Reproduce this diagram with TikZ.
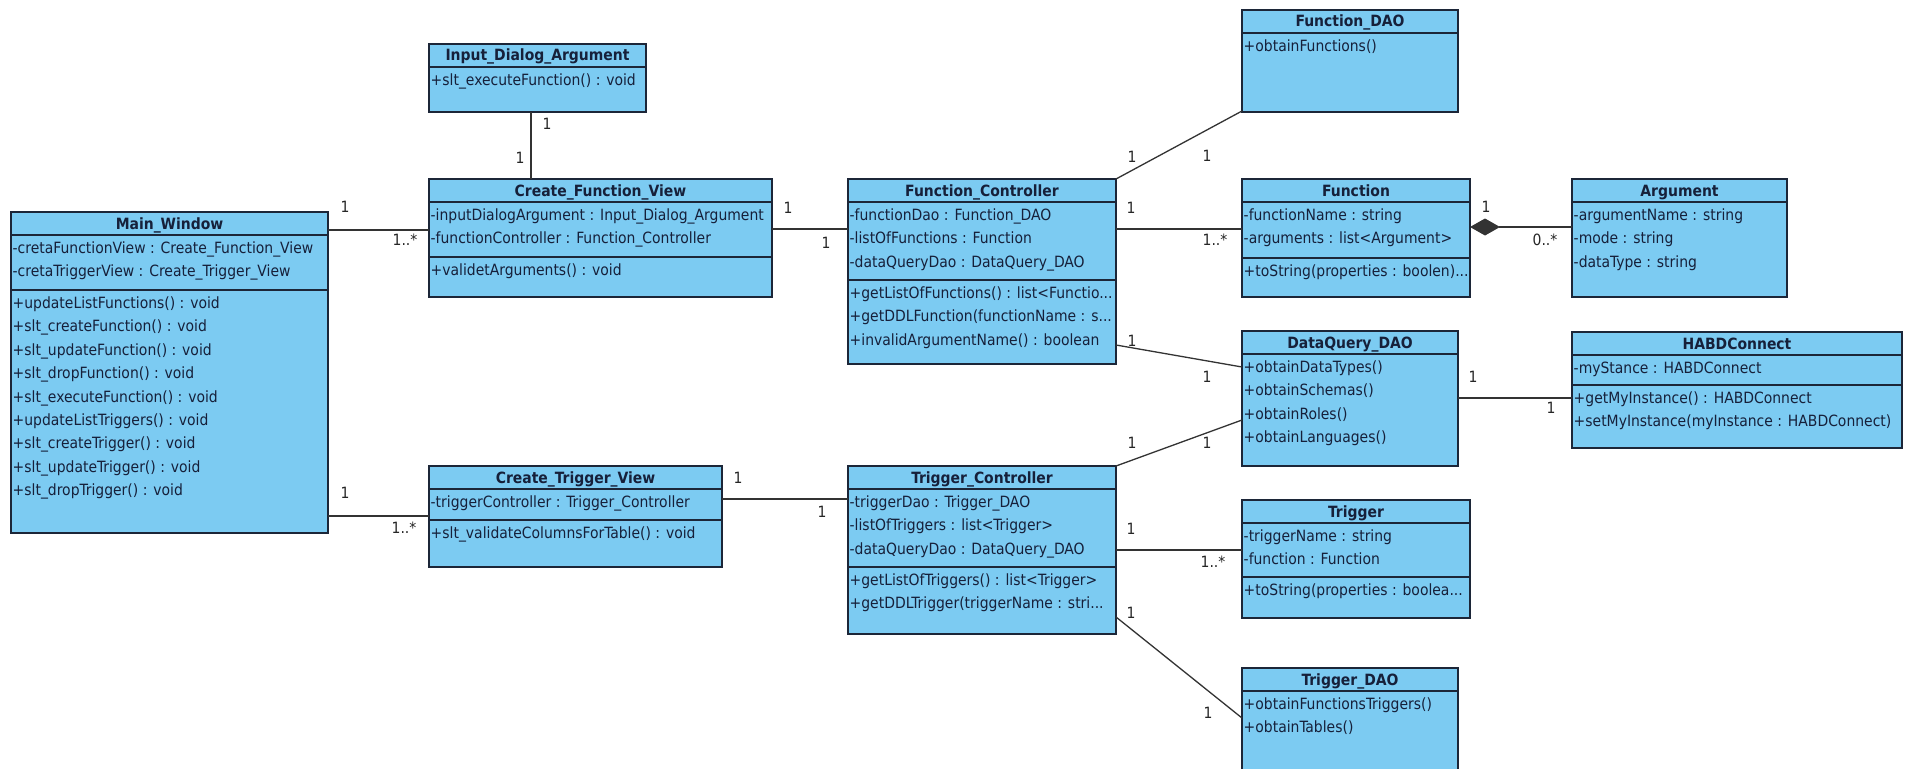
\documentclass[tikz,border=0pt]{standalone}
\usepackage{fontspec}
\setmainfont{DejaVu Sans Condensed}
\usetikzlibrary{arrows.meta}

\definecolor{classfill}{RGB}{124,203,242}
\definecolor{classedge}{RGB}{28,38,56}
\definecolor{classtext}{RGB}{22,32,58}

% name, top left, width, height, first compartment height (0 = one compartment), title, attributes, methods
\newcommand{\umlclass}[8]{%
  \node[classbox, minimum width=#3pt, minimum height=#4pt] (#1) at #2 {};
  \node[classtitle] at ([yshift=-17pt]#1.north) {#6};
  \draw[classrule] ([yshift=-23pt]#1.north west) -- ([yshift=-23pt]#1.north east);
  \node[members] at ([yshift=-23pt]#1.north west) {\strut#7};
  \ifnum#5>0
    \draw[classrule] ([yshift=-23pt-#5pt]#1.north west) -- ([yshift=-23pt-#5pt]#1.north east);
    \node[members] at ([yshift=-23pt-#5pt]#1.north west) {\strut#8};
  \fi}

\begin{document}
\begin{tikzpicture}[x=1pt,y=-1pt,
  classbox/.style={draw=classedge,fill=classfill,line width=1.6pt,anchor=north west,inner sep=0pt,outer sep=0pt},
  classrule/.style={draw=classedge,line width=1.6pt},
  classtitle/.style={anchor=base,inner sep=0pt,text=classtext,font=\bfseries\fontsize{15.5}{18}\selectfont},
  members/.style={anchor=north west,align=left,inner xsep=1.5pt,inner ysep=2pt,text=classtext,
    font=\fontsize{15.5}{23.4}\selectfont},
  assoc/.style={draw=black!80,line width=1.3pt},
  mult/.style={inner sep=0pt,text=black!85,font=\fontsize{15.5}{18}\selectfont}]

  \clip (0,0) rectangle (1905,768);
  \fill[white] (0,0) rectangle (1905,768);

  \umlclass{mw}{(11,212)}{317}{321}{55}{Main\_Window}
    {-cretaFunctionView : Create\_Function\_View\\-cretaTriggerView : Create\_Trigger\_View}
    {+updateListFunctions() : void\\+slt\_createFunction() : void\\+slt\_updateFunction() : void\\
     +slt\_dropFunction() : void\\+slt\_executeFunction() : void\\+updateListTriggers() : void\\
     +slt\_createTrigger() : void\\+slt\_updateTrigger() : void\\+slt\_dropTrigger() : void}
  \umlclass{ida}{(429,44)}{217}{68}{0}{Input\_Dialog\_Argument}
    {+slt\_executeFunction() : void}{}
  \umlclass{cfv}{(429,179)}{343}{118}{55}{Create\_Function\_View}
    {-inputDialogArgument : Input\_Dialog\_Argument\\-functionController : Function\_Controller}
    {+validetArguments() : void}
  \umlclass{ctv}{(429,466)}{293}{101}{31}{Create\_Trigger\_View}
    {-triggerController : Trigger\_Controller}
    {+slt\_validateColumnsForTable() : void}
  \umlclass{fc}{(848,179)}{268}{185}{78}{Function\_Controller}
    {-functionDao : Function\_DAO\\-listOfFunctions : Function\\-dataQueryDao : DataQuery\_DAO}
    {+getListOfFunctions() : list<Functio...\\+getDDLFunction(functionName : s...\\+invalidArgumentName() : boolean}
  \umlclass{tc}{(848,466)}{268}{168}{78}{Trigger\_Controller}
    {-triggerDao : Trigger\_DAO\\-listOfTriggers : list<Trigger>\\-dataQueryDao : DataQuery\_DAO}
    {+getListOfTriggers() : list<Trigger>\\+getDDLTrigger(triggerName : stri...}
  \umlclass{fdao}{(1242,10)}{216}{102}{0}{Function\_DAO}
    {+obtainFunctions()}{}
  \umlclass{fn}{(1242,179)}{228}{118}{56}{Function}
    {-functionName : string\\-arguments : list<Argument>}
    {+toString(properties : boolen)...}
  \umlclass{dq}{(1242,331)}{216}{135}{0}{DataQuery\_DAO}
    {+obtainDataTypes()\\+obtainSchemas()\\+obtainRoles()\\+obtainLanguages()}{}
  \umlclass{tr}{(1242,500)}{228}{118}{54}{Trigger}
    {-triggerName : string\\-function : Function}
    {+toString(properties : boolea...}
  \umlclass{tdao}{(1242,668)}{216}{120}{0}{Trigger\_DAO}
    {+obtainFunctionsTriggers()\\+obtainTables()}{}
  \umlclass{arg}{(1572,179)}{215}{118}{0}{Argument}
    {-argumentName : string\\-mode : string\\-dataType : string}{}
  \umlclass{hc}{(1572,332)}{330}{116}{30}{HABDConnect}
    {-myStance : HABDConnect}
    {+getMyInstance() : HABDConnect\\+setMyInstance(myInstance : HABDConnect)}

  % associations
  \draw[assoc] ([yshift=-18pt]mw.north east) -- ([yshift=-18pt]mw.north east -| cfv.west)
    node[mult, at start, shift={(17,-23)}] {1}
    node[mult, at end, shift={(-24,10)}] {1..*};
  \draw[assoc] ([yshift=17pt]mw.south east) -- ([yshift=17pt]mw.south east -| ctv.west)
    node[mult, at start, shift={(17,-23)}] {1}
    node[mult, at end, shift={(-25,12)}] {1..*};
  \draw[assoc] ([xshift=102pt]ida.south west) -- ([xshift=102pt]ida.south west |- cfv.north)
    node[mult, at start, shift={(16,12)}] {1}
    node[mult, at end, shift={(-11,-21)}] {1};
  \draw[assoc] ([yshift=-50pt]cfv.north east) -- ([yshift=-50pt]cfv.north east -| fc.west)
    node[mult, at start, shift={(16,-21)}] {1}
    node[mult, at end, shift={(-22,14)}] {1};
  \draw[assoc] ([yshift=-33pt]ctv.north east) -- ([yshift=-33pt]ctv.north east -| tc.west)
    node[mult, at start, shift={(16,-21)}] {1}
    node[mult, at end, shift={(-26,13)}] {1};
  \draw[assoc] (fc.north east) -- ([yshift=1pt]fdao.south west)
    node[mult, at start, shift={(16,-22)}] {1}
    node[mult, at end, shift={(-35,45)}] {1};
  \draw[assoc] ([yshift=-50pt]fc.north east) -- ([yshift=-50pt]fc.north east -| fn.west)
    node[mult, at start, shift={(15,-21)}] {1}
    node[mult, at end, shift={(-27,11)}] {1..*};
  \draw[assoc] ([yshift=-166pt]fc.north east) -- ([yshift=-36pt]dq.north west)
    node[mult, at start, shift={(16,-4)}] {1}
    node[mult, at end, shift={(-35,10)}] {1};
  \draw[assoc] (tc.north east) -- ([yshift=-89pt]dq.north west)
    node[mult, at start, shift={(16,-23)}] {1}
    node[mult, at end, shift={(-35,23)}] {1};
  \draw[assoc] ([yshift=-84pt]tc.north east) -- ([yshift=-84pt]tc.north east -| tr.west)
    node[mult, at start, shift={(15,-21)}] {1}
    node[mult, at end, shift={(-29,12)}] {1..*};
  \draw[assoc] ([yshift=-151pt]tc.north east) -- ([yshift=-50pt]tdao.north west)
    node[mult, at start, shift={(15,-4)}] {1}
    node[mult, at end, shift={(-34,-5)}] {1};
  \draw[assoc] ([yshift=-67pt]dq.north east) -- ([yshift=-67pt]dq.north east -| hc.west)
    node[mult, at start, shift={(15,-21)}] {1}
    node[mult, at end, shift={(-21,10)}] {1};

  % composition
  \draw[assoc, {Diamond[length=30pt,width=17pt]}-] ([yshift=-48pt]fn.north east) -- ([yshift=-48pt]fn.north east -| arg.west)
    node[mult, at start, shift={(16,-20)}] {1}
    node[mult, at end, shift={(-27,13)}] {0..*};
\end{tikzpicture}
\end{document}
